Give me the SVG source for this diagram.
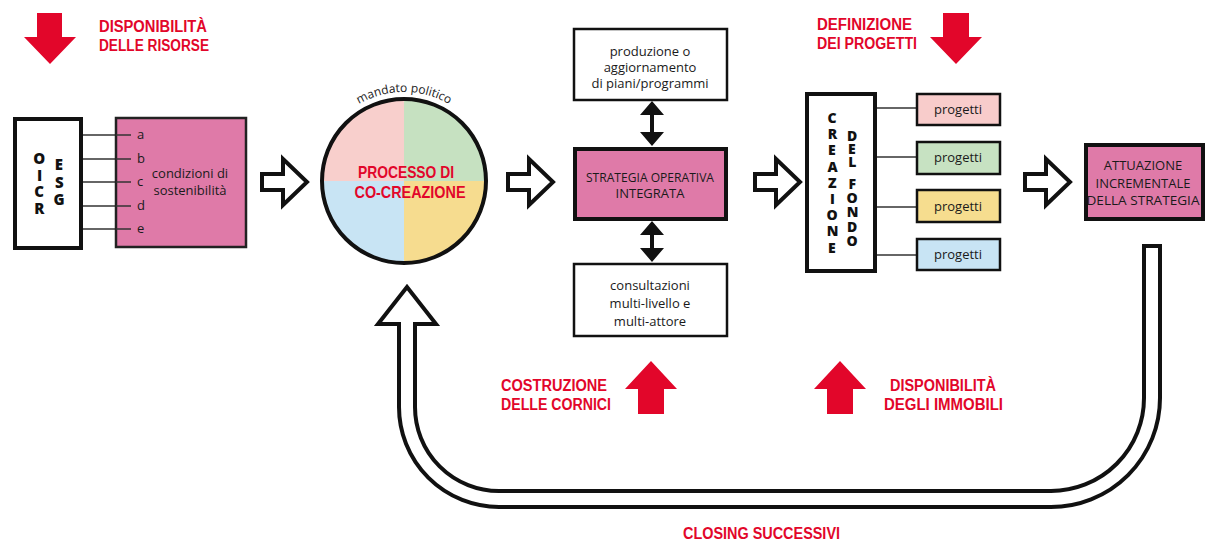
<svg xmlns="http://www.w3.org/2000/svg" xmlns:xlink="http://www.w3.org/1999/xlink" width="1205" height="542" viewBox="0 0 1205 542">
<style>
.t{font-family:"Open Sans","Liberation Sans",sans-serif;font-size:13px;fill:#1a1a1a;text-anchor:middle}
.b{font-family:"Open Sans","Liberation Sans",sans-serif;font-weight:800;font-size:15px;fill:#111}
.v{writing-mode:vertical-rl;text-orientation:upright}
.r{font-family:"Liberation Sans","Open Sans",sans-serif;font-weight:700;font-size:16px;fill:#e2062a}
.rc{text-anchor:middle}
.box{fill:#fff;stroke:#111;stroke-width:2.5}
.thick{fill:#fff;stroke:#111;stroke-width:4}
.pink{fill:#df7aa8;stroke:#222;stroke-width:2.5}
.pinkT{fill:#df7aa8;stroke:#111;stroke-width:4}
.ln{stroke:#333;stroke-width:1.5;fill:none}
.red{fill:#e2062a}
.hollow{fill:#fff;stroke:#111;stroke-width:4;stroke-linejoin:miter}
.dbl{fill:#111}
</style>
<defs>
<path id="hol" d="M-45 -8 L-24 -8 L-24 -23 L0 0 L-24 23 L-24 8 L-45 8 Z"/>
<path id="arcp" d="M326.9 136.5 A89 89 0 0 1 481.1 136.5"/>
</defs>

<!-- red labels and arrows -->
<g id="risorse">
<path class="red" d="M37 13 H62 V37 H76 L50 64 L24 37 H37 Z"/>
<text class="r" x="99" y="32" textLength="108" lengthAdjust="spacingAndGlyphs">DISPONIBILITÀ</text>
<text class="r" x="99" y="51" textLength="110" lengthAdjust="spacingAndGlyphs">DELLE RISORSE</text>
</g>
<g id="progetti-def">
<path class="red" d="M943 13 H969 V37 H982 L956 64 L930 37 H943 Z"/>
<text class="r" x="817" y="30" textLength="95" lengthAdjust="spacingAndGlyphs">DEFINIZIONE</text>
<text class="r" x="817" y="49" textLength="100" lengthAdjust="spacingAndGlyphs">DEI PROGETTI</text>
</g>
<g id="cornici">
<path class="red" d="M638 414 V389 H625 L651 361 L677 389 H664 V414 Z"/>
<text class="r" x="501" y="391" textLength="106" lengthAdjust="spacingAndGlyphs">COSTRUZIONE</text>
<text class="r" x="501" y="410" textLength="110" lengthAdjust="spacingAndGlyphs">DELLE CORNICI</text>
</g>
<g id="immobili">
<path class="red" d="M827 414 V389 H814 L840 361 L866 389 H853 V414 Z"/>
<text class="r" x="890" y="391" textLength="106" lengthAdjust="spacingAndGlyphs">DISPONIBILITÀ</text>
<text class="r" x="884" y="410" textLength="119" lengthAdjust="spacingAndGlyphs">DEGLI IMMOBILI</text>
</g>
<g id="closing">
<text class="r" x="683" y="539" textLength="157" lengthAdjust="spacingAndGlyphs">CLOSING SUCCESSIVI</text>
</g>

<!-- connectors -->
<g id="connectors">
<line class="ln" x1="81" y1="135" x2="131" y2="135"/>
<line class="ln" x1="81" y1="159" x2="131" y2="159"/>
<line class="ln" x1="81" y1="182" x2="131" y2="182"/>
<line class="ln" x1="81" y1="206" x2="131" y2="206"/>
<line class="ln" x1="81" y1="229" x2="131" y2="229"/>
<line class="ln" x1="875" y1="108" x2="917" y2="108"/>
<line class="ln" x1="875" y1="157" x2="917" y2="157"/>
<line class="ln" x1="875" y1="207" x2="917" y2="207"/>
<line class="ln" x1="875" y1="255" x2="917" y2="255"/>
<use xlink:href="#hol" href="#hol" class="hollow" transform="translate(307,182)"/>
<use xlink:href="#hol" href="#hol" class="hollow" transform="translate(553,182)"/>
<use xlink:href="#hol" href="#hol" class="hollow" transform="translate(800,182)"/>
<use xlink:href="#hol" href="#hol" class="hollow" transform="translate(1070,182)"/>
<path class="dbl" d="M652 101 L664 115 L654 115 L654 132 L664 132 L652 146 L640 132 L650 132 L650 115 L640 115 Z"/>
<path class="dbl" d="M652 221 L664 235 L654 235 L654 248 L664 248 L652 262 L640 248 L650 248 L650 235 L640 235 Z"/>
<path class="hollow" d="M1144 246 L1160 246 L1160 398 A109 109 0 0 1 1051 507 L499 507 A100 100 0 0 1 399 407 L399 324 L378 324 L407 287 L436 324 L415 324 L415 407 A84 84 0 0 0 499 491 L1051 491 A93 93 0 0 0 1144 398 Z"/>
</g>

<g id="oicr">
<rect class="thick" x="15" y="119" width="66" height="129"/>
<text class="b v" x="39" y="148" style="letter-spacing:-3.4px">OICR</text>
<text class="b v" x="59" y="154" style="letter-spacing:-2.4px">ESG</text>
</g>

<g id="condizioni">
<rect class="pink" x="116" y="118" width="130" height="129"/>
<line class="ln" x1="116" y1="135" x2="131" y2="135"/>
<line class="ln" x1="116" y1="159" x2="131" y2="159"/>
<line class="ln" x1="116" y1="182" x2="131" y2="182"/>
<line class="ln" x1="116" y1="206" x2="131" y2="206"/>
<line class="ln" x1="116" y1="229" x2="131" y2="229"/>
<text class="t" x="137" y="139" style="text-anchor:start">a</text>
<text class="t" x="137" y="163" style="text-anchor:start">b</text>
<text class="t" x="137" y="186" style="text-anchor:start">c</text>
<text class="t" x="137" y="210" style="text-anchor:start">d</text>
<text class="t" x="137" y="233" style="text-anchor:start">e</text>
<text class="t" x="190" y="178">condizioni di</text>
<text class="t" x="190" y="195">sostenibilità</text>
</g>

<g id="processo">
<path d="M404 181 L322 181 A82 82 0 0 1 404 99 Z" fill="#f8cfcc"/>
<path d="M404 181 L404 99 A82 82 0 0 1 486 181 Z" fill="#c6e1c1"/>
<path d="M404 181 L486 181 A82 82 0 0 1 404 263 Z" fill="#f6dc8f"/>
<path d="M404 181 L404 263 A82 82 0 0 1 322 181 Z" fill="#c8e4f4"/>
<circle cx="404" cy="181" r="82" fill="none" stroke="#111" stroke-width="4"/>
<text class="t" style="font-size:12px"><textPath xlink:href="#arcp" href="#arcp" startOffset="50%">mandato politico</textPath></text>
<text class="r rc" x="406" y="178" style="font-size:16.5px" textLength="96" lengthAdjust="spacingAndGlyphs">PROCESSO DI</text>
<text class="r rc" x="410" y="198" style="font-size:16.5px" textLength="111" lengthAdjust="spacingAndGlyphs">CO-CREAZIONE</text>
</g>

<g id="piani">
<rect class="box" x="574" y="29" width="153" height="71"/>
<text class="t" x="650" y="56">produzione o</text>
<text class="t" x="650" y="72">aggiornamento</text>
<text class="t" x="650" y="88">di piani/programmi</text>
</g>

<g id="strategia">
<rect class="pinkT" x="575" y="149" width="151" height="70"/>
<text class="t" x="650" y="182" textLength="128" lengthAdjust="spacingAndGlyphs">STRATEGIA OPERATIVA</text>
<text class="t" x="650" y="198">INTEGRATA</text>
</g>

<g id="consultazioni">
<rect class="box" x="574" y="264" width="153" height="72"/>
<text class="t" x="650" y="290">consultazioni</text>
<text class="t" x="650" y="308">multi-livello e</text>
<text class="t" x="650" y="326">multi-attore</text>
</g>

<g id="fondo">
<rect class="thick" x="807" y="94" width="68" height="177"/>
<text class="b v" x="832" y="108" style="font-size:14px;letter-spacing:-2.8px">CREAZIONE</text>
<text class="b v" x="852" y="126" style="font-size:14px;letter-spacing:-6px">DEL</text>
<text class="b v" x="852" y="174" style="font-size:14px;letter-spacing:-4.8px">FONDO</text>
</g>

<g id="progetti1"><rect class="box" x="917" y="94" width="83" height="31" style="fill:#f8cccb"/><text class="t" x="958" y="114">progetti</text></g>
<g id="progetti2"><rect class="box" x="917" y="142" width="83" height="32" style="fill:#c7e2c2"/><text class="t" x="958" y="162">progetti</text></g>
<g id="progetti3"><rect class="box" x="917" y="190" width="83" height="32" style="fill:#f6dd8f"/><text class="t" x="958" y="211">progetti</text></g>
<g id="progetti4"><rect class="box" x="917" y="239" width="83" height="31" style="fill:#c8e4f4"/><text class="t" x="958" y="259">progetti</text></g>

<g id="attuazione">
<rect class="pinkT" x="1086" y="145" width="117" height="74"/>
<text class="t" x="1143" y="170">ATTUAZIONE</text>
<text class="t" x="1143" y="188">INCREMENTALE</text>
<text class="t" x="1143" y="205" textLength="113" lengthAdjust="spacingAndGlyphs">DELLA STRATEGIA</text>
</g>
</svg>
